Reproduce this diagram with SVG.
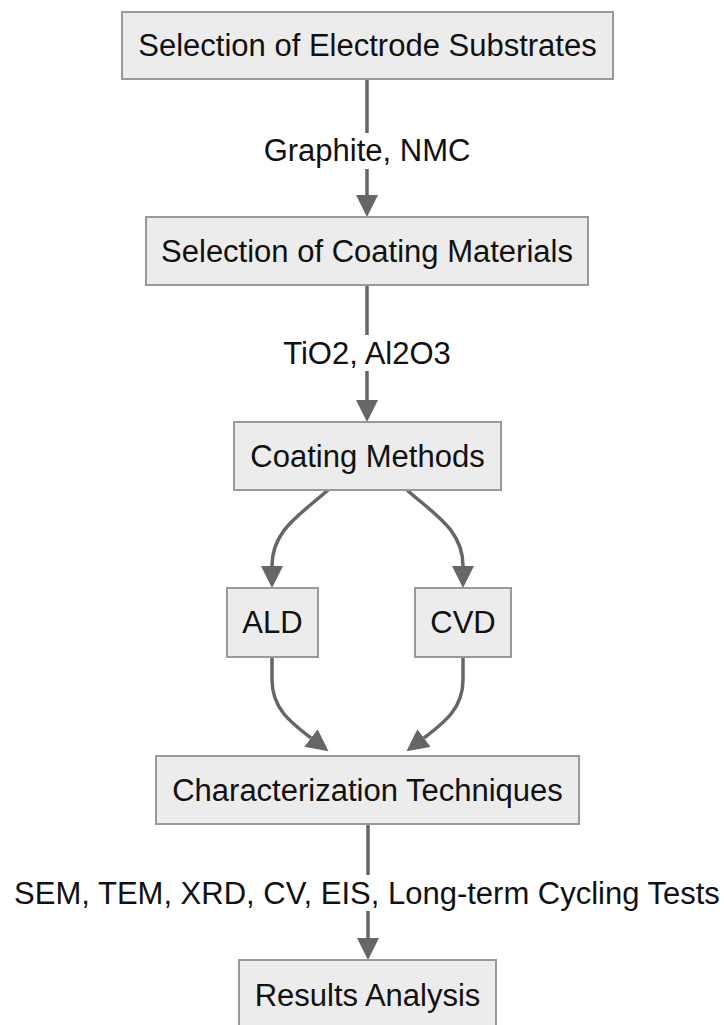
<svg xmlns="http://www.w3.org/2000/svg" width="724" height="1025" viewBox="0 0 724 1025">
<defs>
<marker id="ah" markerUnits="userSpaceOnUse" markerWidth="24" markerHeight="24" refX="0" refY="11" orient="auto">
<path d="M0,0 L22,11 L0,22 z" fill="#666666"/>
</marker>
<style>
.box{fill:#ececec;stroke:#999999;stroke-width:2}
.t{font-family:"Liberation Sans",Arial,sans-serif;font-size:31px;fill:#111111;text-anchor:middle;dominant-baseline:central}
.e{fill:none;stroke:#666666;stroke-width:3.5;marker-end:url(#ah)}
.lb{fill:#ffffff}
</style>
</defs>
<rect width="724" height="1025" fill="#ffffff"/>
<g id="connectors">
<path class="e" d="M367,79 L367,195"/>
<path class="e" d="M367,285 L367,400"/>
<path class="e" d="M328,490 C300,515 272,530 272,566"/>
<path class="e" d="M407,490 C435,515 463,530 463,566"/>
<path class="e" d="M272,657 L272,680 C272,708 290,722 311,738"/>
<path class="e" d="M463,657 L463,680 C463,708 445,722 424,738"/>
<path class="e" d="M368,824 L368,938"/>
<g id="edge-labels">
<rect class="lb" x="262" y="133" width="210" height="36"/>
<text class="t" x="367" y="150">Graphite, NMC</text>
<rect class="lb" x="274" y="335" width="186" height="36"/>
<rect class="lb" x="8" y="875" width="716" height="36"/>
<text class="t" x="367" y="353">TiO2, Al2O3</text>
<text class="t" x="367" y="893">SEM, TEM, XRD, CV, EIS, Long-term Cycling Tests</text>
</g>
</g>
<g id="node-substrates"><rect class="box" x="122" y="12" width="491" height="67"/><text class="t" x="367.5" y="45.5">Selection of Electrode Substrates</text></g>
<g id="node-coating-materials"><rect class="box" x="146" y="217" width="442" height="68"/><text class="t" x="367" y="251">Selection of Coating Materials</text></g>
<g id="node-coating-methods"><rect class="box" x="234" y="422" width="267" height="68"/><text class="t" x="367.5" y="456">Coating Methods</text></g>
<g id="node-ald"><rect class="box" x="227" y="588" width="91" height="69"/><text class="t" x="272.5" y="622.5">ALD</text></g>
<g id="node-cvd"><rect class="box" x="415" y="588" width="96" height="69"/><text class="t" x="463" y="622.5">CVD</text></g>
<g id="node-characterization"><rect class="box" x="156" y="756" width="423" height="68"/><text class="t" x="367.5" y="790">Characterization Techniques</text></g>
<g id="node-results"><rect class="box" x="239" y="960" width="257" height="68"/><text class="t" x="367.5" y="995">Results Analysis</text></g>
</svg>
